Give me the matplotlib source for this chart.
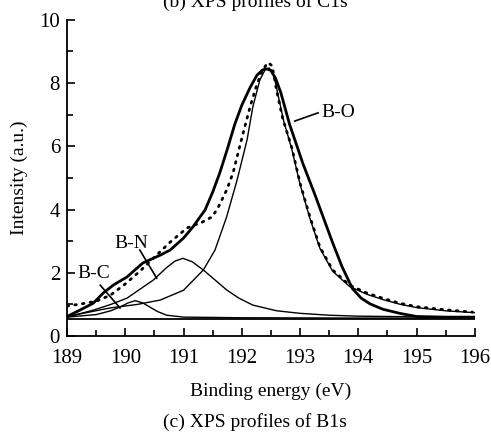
import matplotlib.pyplot as plt
from matplotlib.ticker import MultipleLocator

plt.rcParams['font.family'] = ['Liberation Serif', 'DejaVu Serif']

# raw data (dotted)
raw_x = [189.0, 189.25, 189.5, 189.75, 190.0, 190.25, 190.48, 190.77, 191.06, 191.33, 191.49,
         191.59, 191.74, 191.85, 191.97, 192.05, 192.15, 192.25, 192.35, 192.45, 192.52, 192.6,
         192.7, 192.86, 193.0, 193.17, 193.34, 193.56, 193.85, 194.15, 194.45, 194.71, 195.0,
         195.5, 195.96]
raw_y = [0.95, 1.02, 1.1, 1.3, 1.65, 2.05, 2.46, 2.97, 3.42, 3.61, 3.77,
         4.05, 4.62, 5.16, 6.04, 6.61, 7.3, 7.9, 8.4, 8.65, 8.55, 7.75,
         6.9, 5.95, 4.84, 3.77, 2.82, 2.09, 1.61, 1.36, 1.18, 1.04, 0.93,
         0.83, 0.76]

# thick envelope
env_x = [189.0, 189.22, 189.45, 189.62, 189.8, 190.03, 190.3, 190.6, 190.77, 191.0, 191.16,
         191.37, 191.5, 191.62, 191.75, 191.88, 192.0, 192.14, 192.26, 192.36, 192.43, 192.5,
         192.58, 192.67, 192.82, 193.05, 193.25, 193.4, 193.56, 193.72, 193.9, 194.05, 194.2,
         194.42, 194.71, 195.0, 195.5, 196.0]
env_y = [0.62, 0.82, 1.04, 1.36, 1.62, 1.87, 2.31, 2.56, 2.72, 3.1, 3.45,
         3.99, 4.55, 5.15, 5.9, 6.7, 7.3, 7.85, 8.25, 8.42, 8.45, 8.4,
         8.15, 7.7, 6.7, 5.45, 4.5, 3.75, 2.95, 2.2, 1.5, 1.2, 1.02,
         0.85, 0.72, 0.62, 0.6, 0.6]

# fitted components
bo_x = [189.0, 189.74, 190.2, 190.6, 191.0, 191.34, 191.54, 191.74, 191.92, 192.09, 192.19,
        192.31, 192.4, 192.47, 192.55, 192.62, 192.72, 192.86, 193.0, 193.17, 193.34, 193.56,
        193.85, 194.15, 194.45, 194.71, 195.0, 195.5, 196.0]
bo_y = [0.62, 0.89, 1.0, 1.14, 1.45, 2.09, 2.72, 3.77, 4.94, 6.2, 7.25,
        8.1, 8.42, 8.48, 8.25, 7.65, 6.8, 5.9, 4.8, 3.72, 2.78, 2.05,
        1.57, 1.32, 1.14, 1.01, 0.9, 0.8, 0.74]

bn_x = [189.0, 189.45, 189.75, 190.03, 190.25, 190.48, 190.7, 190.85, 190.99, 191.15, 191.34,
        191.55, 191.74, 191.95, 192.19, 192.6, 193.0, 193.5, 194.0, 195.0, 196.0]
bn_y = [0.6, 0.82, 1.0, 1.2, 1.48, 1.77, 2.15, 2.37, 2.46, 2.35, 2.09,
        1.76, 1.46, 1.2, 0.98, 0.8, 0.72, 0.66, 0.63, 0.61, 0.6]

bc_x = [189.0, 189.5, 189.75, 189.91, 190.05, 190.17, 190.3, 190.42, 190.55, 190.71, 191.0,
        192.0, 194.0, 196.0]
bc_y = [0.6, 0.68, 0.8, 0.92, 1.05, 1.12, 1.05, 0.92, 0.78, 0.66, 0.6,
        0.58, 0.57, 0.57]

base_x = [189.0, 196.0]
base_y = [0.55, 0.55]

fig = plt.figure(figsize=(4.91, 4.32), dpi=100)
ax = fig.add_axes([0.1365, 0.222, 0.8305, 0.732])

ax.plot(base_x, base_y, color='black', lw=1.3)
ax.plot(bc_x, bc_y, color='black', lw=1.0)
ax.plot(bn_x, bn_y, color='black', lw=1.0)
ax.plot(bo_x, bo_y, color='black', lw=1.0)
ax.plot(raw_x, raw_y, color='black', lw=2.0, linestyle=(0, (0.6, 2.2)), dash_capstyle='round')
ax.plot(env_x, env_y, color='black', lw=2.0)

# peak labels with pointer lines
ax.text(193.65, 7.06, 'B-O', fontsize=14, ha='center', va='center')
ax.plot([192.91, 193.31], [6.8, 7.06], color='black', lw=1.2)
ax.text(190.1, 2.94, 'B-N', fontsize=14, ha='center', va='center')
ax.plot([190.25, 190.54], [2.72, 1.83], color='black', lw=1.2)
ax.text(189.46, 1.99, 'B-C', fontsize=14, ha='center', va='center')
ax.plot([189.57, 189.91], [1.61, 0.89], color='black', lw=1.2)

ax.set_xlim(189, 196)
ax.set_ylim(0, 10)
ax.xaxis.set_major_locator(MultipleLocator(1))
ax.xaxis.set_minor_locator(MultipleLocator(0.5))
ax.yaxis.set_major_locator(MultipleLocator(2))
ax.yaxis.set_minor_locator(MultipleLocator(1))
ax.tick_params(which='both', direction='in', labelsize=15, width=1.2)
ax.tick_params(which='major', length=6)
ax.tick_params(which='minor', length=4)
ax.tick_params(axis='x', pad=9)
ax.tick_params(axis='y', pad=5)
ax.spines['top'].set_visible(False)
ax.spines['right'].set_visible(False)
ax.spines['left'].set_linewidth(1.3)
ax.spines['bottom'].set_linewidth(1.3)

ax.set_xlabel('Binding energy (eV)', fontsize=14, labelpad=11)
ax.set_ylabel('Intensity (a.u.)', fontsize=14, labelpad=8)

fig.text(0.52, 0.995, '(b) XPS profiles of C1s', fontsize=14, ha='center', va='center')
fig.text(0.52, 0.023, '(c) XPS profiles of B1s', fontsize=14, ha='center', va='center')

fig.savefig('out.png', dpi=100)
